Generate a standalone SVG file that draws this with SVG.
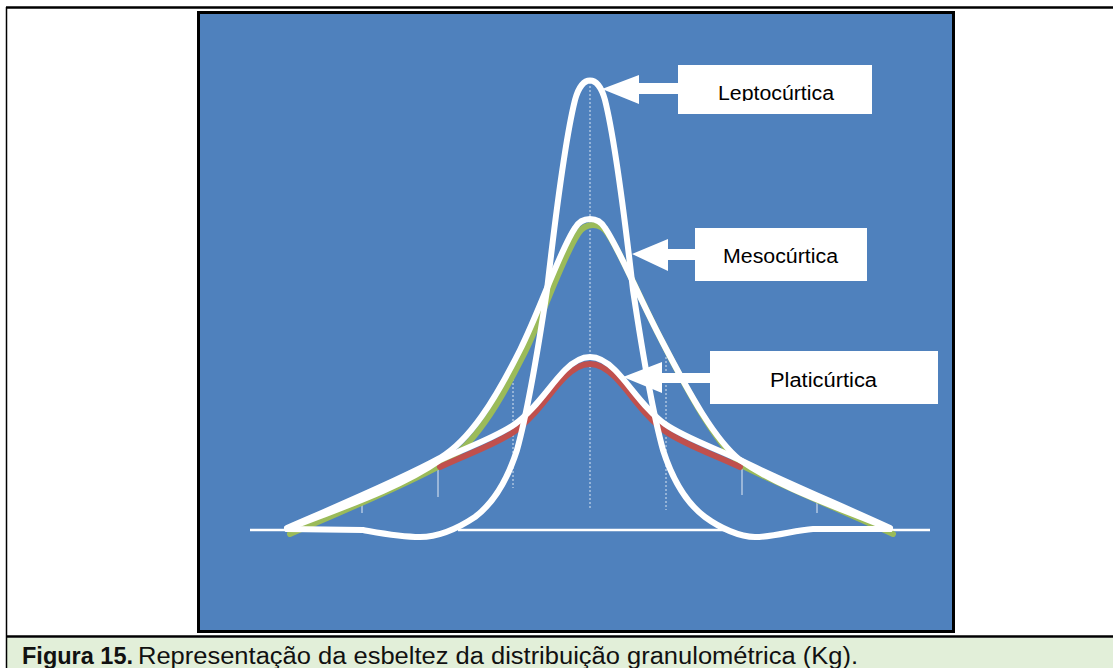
<svg xmlns="http://www.w3.org/2000/svg" width="1113" height="668" viewBox="0 0 1113 668">
<style>
.curve{fill:none;stroke:#fff;stroke-width:6;stroke-linecap:round;stroke-linejoin:round}
.green{fill:none;stroke:#9BBB59;stroke-width:6;stroke-linecap:round}
.red{fill:none;stroke:#C0504D;stroke-width:6;stroke-linecap:round}
.tick{stroke:#fff;stroke-width:1;opacity:0.85}
.dot{stroke:#fff;stroke-width:1;stroke-dasharray:2 2;opacity:0.8}
.arrow{fill:#fff}
.box{fill:#fff}
.lbl{font-family:"Liberation Sans",Arial,sans-serif;font-size:20px;fill:#000;text-anchor:middle}
.cap{font-family:"Liberation Sans",Arial,sans-serif;font-size:23px;fill:#111}
</style>
<defs>
<clipPath id="clipLepto"><rect x="678" y="60" width="194" height="41"/></clipPath>
</defs>
<rect x="0" y="0" width="1113" height="668" fill="#fff"/>
<rect x="7" y="638" width="1106" height="30" fill="#E2EFD9"/>
<line x1="6" y1="7.5" x2="1113" y2="7.5" stroke="#000" stroke-width="2.5"/>
<line x1="6.5" y1="7" x2="6.5" y2="668" stroke="#000" stroke-width="1.5"/>
<line x1="6" y1="636.5" x2="1113" y2="636.5" stroke="#000" stroke-width="2.5"/>
<g id="panel">
<rect x="198.5" y="12.5" width="755" height="619" fill="#4F81BD" stroke="#000" stroke-width="3"/>
</g>
<g id="axes">
<line x1="250" y1="530" x2="292" y2="530" stroke="#fff" stroke-width="2.5"/>
<line x1="458" y1="530" x2="725" y2="530" stroke="#fff" stroke-width="2.5"/>
<line x1="800" y1="530" x2="930" y2="530" stroke="#fff" stroke-width="2.5"/>
<line class="dot" x1="590" y1="82" x2="590" y2="508"/>
<line class="dot" x1="513" y1="363" x2="513" y2="488"/>
<line class="dot" x1="666" y1="357" x2="666" y2="510"/>
<line class="tick" x1="438" y1="465" x2="438" y2="497"/>
<line class="tick" x1="742" y1="463" x2="742" y2="495"/>
<line class="tick" x1="362" y1="498" x2="362" y2="513"/>
<line class="tick" x1="817" y1="500" x2="817" y2="513"/>
</g>
<g id="mesocurtica">
<path class="green" transform="translate(3,6)" d="M287,528 C340,505 400,480 440,458 C470,440 495,400 520,350 C540,310 560,250 575,228 C582,216 598,216 605,228 C620,250 640,300 663,343 C690,395 715,440 740,460 C780,480 840,505 890,528"/>
</g>
<g id="platicurtica">
<path class="red" transform="translate(0,7)" d="M440,460 C465,448 495,438 515,424 C535,410 550,385 565,370 C575,360 583,357 590,357 C597,357 605,360 615,370 C630,385 645,410 665,424 C685,438 715,448 740,460"/>
<path class="curve" d="M287,529 C340,508 400,488 440,460 C465,448 495,438 515,424 C535,410 550,385 565,370 C575,360 583,357 590,357 C597,357 605,360 615,370 C630,385 645,410 665,424 C685,438 715,448 740,460 C780,488 840,508 890,529"/>
</g>
<g id="mesocurtica-white">
<path class="curve" d="M287,528 C340,505 400,480 440,458 C470,440 495,400 520,350 C540,310 560,250 575,228 C582,216 598,216 605,228 C620,250 640,300 663,343 C690,395 715,440 740,460 C780,480 840,505 890,528"/>
</g>
<g id="leptocurtica">
<path class="curve" d="M287,529 L363,530 C380,533 400,537 420,537 C440,537 460,527 475,517 C495,502 508,478 517,450 C528,410 538,350 547,290 C555,220 565,140 575,100 C582,74 598,74 605,100 C615,140 625,220 633,290 C642,350 652,410 663,450 C672,478 685,502 705,517 C720,528 740,537 755,537 C775,537 795,530 813,529 L890,529"/>
</g>
<g id="connectors">
<polygon class="arrow" points="602,89 639,75 639,83 678,83 678,94 639,94 639,104"/>
<polygon class="arrow" points="632,254 668,239 668,249 695,249 695,260 668,260 668,271"/>
<polygon class="arrow" points="623,377 662,362 662,373 710,373 710,383 662,383 662,393"/>
</g>
<g id="label-lepto">
<rect class="box" x="678" y="65" width="194" height="49"/>
<text class="lbl" x="776" y="100" textLength="116" lengthAdjust="spacingAndGlyphs" clip-path="url(#clipLepto)">Leptocúrtica</text>
</g>
<g id="label-meso">
<rect class="box" x="695" y="228" width="172" height="53"/>
<text class="lbl" x="780.5" y="263" textLength="115" lengthAdjust="spacingAndGlyphs">Mesocúrtica</text>
</g>
<g id="label-plati">
<rect class="box" x="710" y="351" width="228" height="53"/>
<text class="lbl" x="823.5" y="387" textLength="107" lengthAdjust="spacingAndGlyphs">Platicúrtica</text>
</g>
<g id="caption">
<text class="cap" x="22" y="664" font-weight="bold" textLength="111" lengthAdjust="spacingAndGlyphs">Figura 15.</text>
<text class="cap" x="138" y="664" textLength="720" lengthAdjust="spacingAndGlyphs">Representação da esbeltez da distribuição granulométrica (Kg).</text>
</g>
</svg>
